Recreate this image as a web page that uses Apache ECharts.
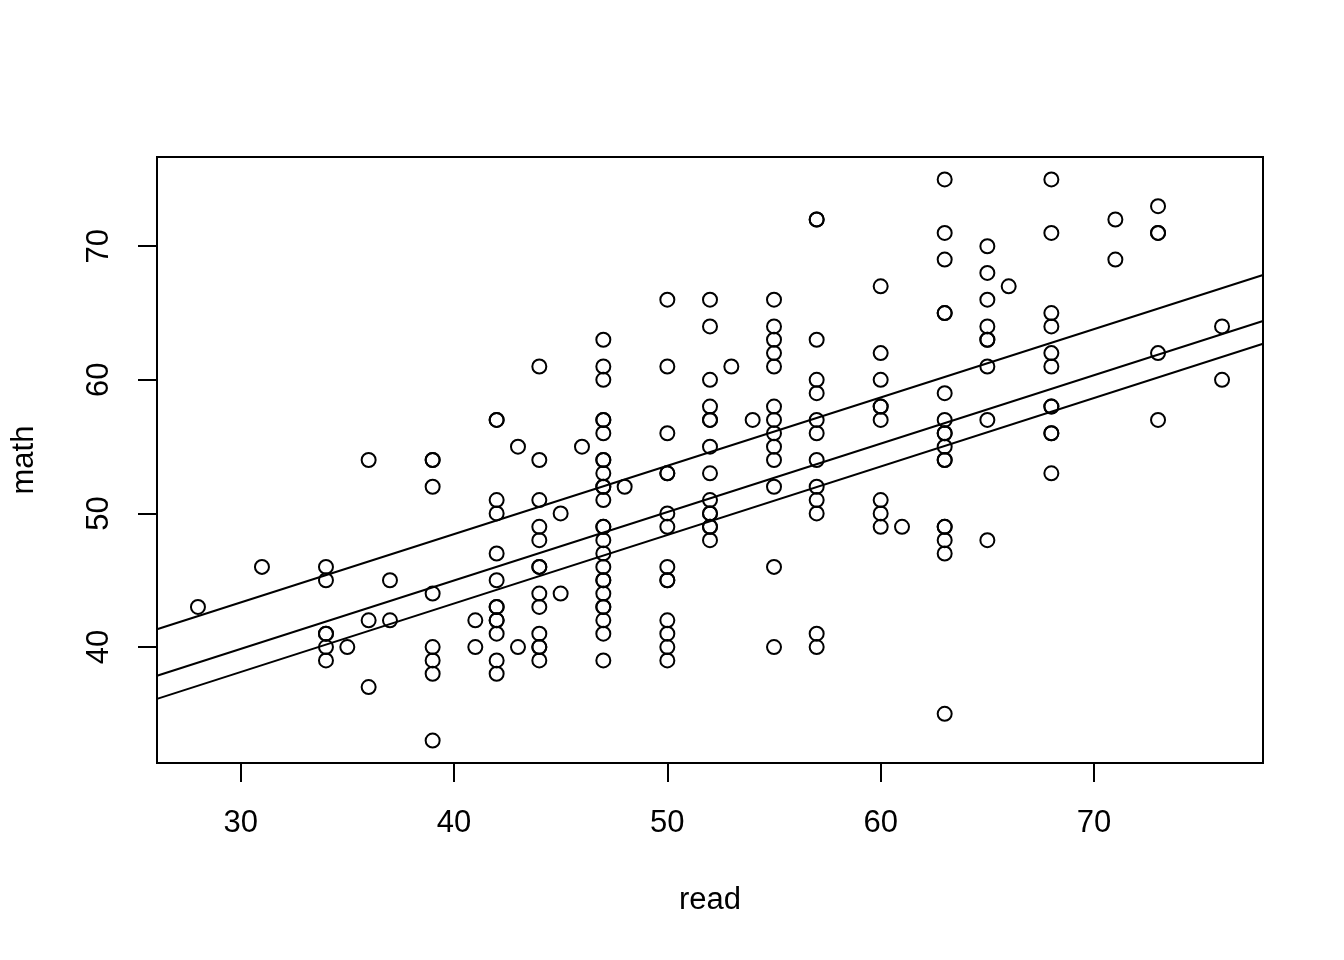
<!DOCTYPE html>
<html>
<head>
<meta charset="utf-8">
<script src="https://cdn.jsdelivr.net/npm/echarts@6/dist/echarts.min.js"></script>
<style>
  html, body { margin: 0; padding: 0; background: #fff; }
  #chart { width: 1344px; height: 960px; }
</style>
</head>
<body>
<div id="chart"></div>
<script>
// ---- data ----
const readLevels = [28, 31, 34, 35, 36, 37, 39, 41, 42, 43, 44, 45, 46, 47, 48, 50, 52, 53, 54, 55, 57, 60, 61, 63, 65, 66, 68, 71, 73, 76];
const mathAtRead = [
  [43],
  [46],
  [46, 45, 41, 41, 40, 39],
  [40],
  [54, 42, 37],
  [45, 42],
  [54, 54, 52, 44, 40, 39, 38, 33],
  [42, 40],
  [57, 57, 51, 50, 47, 45, 43, 43, 42, 42, 41, 39, 38],
  [55, 40],
  [61, 54, 51, 49, 48, 46, 46, 44, 43, 41, 40, 40, 39],
  [50, 44],
  [55],
  [63, 61, 60, 57, 57, 56, 54, 54, 53, 52, 52, 51, 49, 49, 48, 47, 46, 45, 45, 44, 43, 43, 42, 41, 39],
  [52],
  [66, 61, 56, 53, 53, 50, 49, 46, 45, 45, 42, 41, 40, 39],
  [66, 64, 60, 58, 57, 57, 55, 53, 51, 50, 50, 49, 49, 48],
  [61],
  [57],
  [66, 64, 63, 62, 61, 58, 57, 56, 55, 54, 52, 46, 40],
  [72, 72, 63, 60, 59, 57, 56, 54, 52, 51, 50, 41, 40],
  [67, 62, 60, 58, 58, 57, 51, 50, 49],
  [49],
  [75, 71, 69, 65, 65, 59, 57, 56, 56, 55, 54, 54, 49, 49, 48, 47, 35],
  [70, 68, 66, 64, 63, 63, 61, 57, 48],
  [67],
  [75, 71, 65, 64, 62, 61, 58, 58, 56, 56, 53],
  [72, 69],
  [73, 71, 71, 62, 57],
  [64, 60]
];

// fitted lines: values at the two ends of the x range
const lineX = [26.08, 77.92];
const upperLine = [41.33, 67.85];
const middleLine = [37.85, 64.40];
const lowerLine = [36.12, 62.70];

// axis ranges and ticks
const xRange = [26.08, 77.92];
const yRange = [31.32, 76.68];
const xTicks = [30, 40, 50, 60, 70];
const yTicks = [40, 50, 60, 70];

// ---- build chart ----
const points = [];
readLevels.forEach((r, i) => mathAtRead[i].forEach(m => points.push([r, m])));

const font = "'Liberation Sans', Arial, Helvetica, sans-serif";

function lineSeries(vals) {
  return {
    type: 'line',
    data: lineX.map((x, i) => [x, vals[i]]),
    symbol: 'none',
    lineStyle: { color: '#000', width: 2, opacity: 1 },
    silent: true,
    z: 3
  };
}

const chart = echarts.init(document.getElementById('chart'), null, { renderer: 'canvas' });
chart.setOption({
  animation: false,
  backgroundColor: '#fff',
  grid: {
    left: 157, right: 81, top: 157, bottom: 197,
    show: true, borderColor: '#000', borderWidth: 2, backgroundColor: 'transparent'
  },
  xAxis: {
    type: 'value',
    min: xRange[0], max: xRange[1],
    name: 'read',
    nameLocation: 'middle',
    nameGap: 122,
    nameTextStyle: { fontFamily: font, fontSize: 31, color: '#000' },
    axisLine: { show: false },
    splitLine: { show: false },
    axisTick: { show: true, customValues: xTicks, length: 19, inside: false, lineStyle: { color: '#000', width: 2 } },
    axisLabel: { customValues: xTicks, margin: 45, fontFamily: font, fontSize: 31, color: '#000' }
  },
  yAxis: {
    type: 'value',
    min: yRange[0], max: yRange[1],
    name: 'math',
    nameLocation: 'middle',
    nameGap: 117,
    nameRotate: 90,
    nameTextStyle: { fontFamily: font, fontSize: 31, color: '#000' },
    axisLine: { show: false },
    splitLine: { show: false },
    axisTick: { show: true, customValues: yTicks, length: 19, inside: false, lineStyle: { color: '#000', width: 2 } },
    axisLabel: { customValues: yTicks, rotate: 90, margin: 42, fontFamily: font, fontSize: 31, color: '#000' }
  },
  series: [
    {
      type: 'scatter',
      data: points,
      symbol: 'circle',
      symbolSize: 14,
      itemStyle: { color: 'rgba(0,0,0,0)', borderColor: '#000', borderWidth: 2, opacity: 1 },
      silent: true,
      z: 2
    },
    lineSeries(upperLine),
    lineSeries(middleLine),
    lineSeries(lowerLine)
  ]
});
</script>
</body>
</html>
